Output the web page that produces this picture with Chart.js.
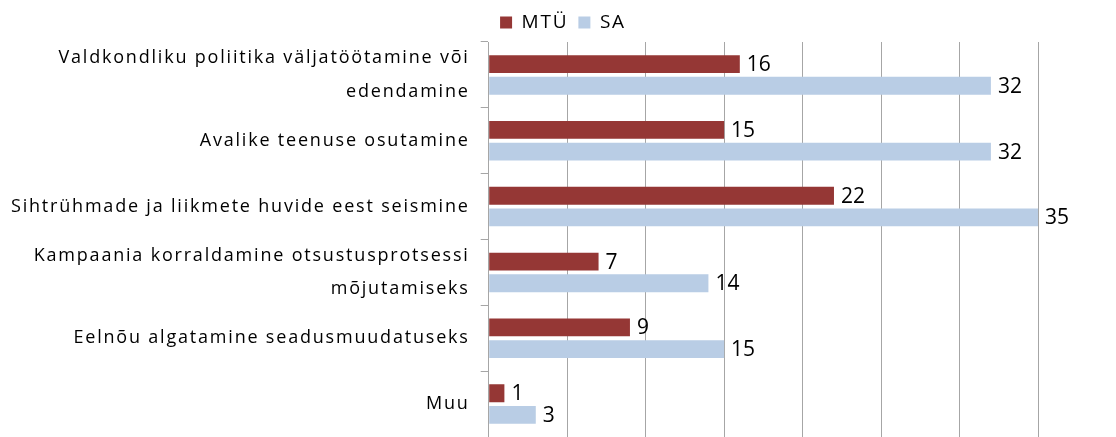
<!DOCTYPE html>
<html>
<head>
<meta charset="utf-8">
<script src="https://cdn.jsdelivr.net/npm/chart.js@4"></script>
<style>
  html, body { margin: 0; padding: 0; background: #fff; }
  #wrap { width: 1116px; height: 437px; }
</style>
</head>
<body>
<div id="wrap"><canvas id="myChart" width="1116" height="437"></canvas></div>
<script>
// andmed
const categories = [
  ["Valdkondliku poliitika väljatöötamine või", "edendamine"],
  "Avalike teenuse osutamine",
  "Sihtrühmade ja liikmete huvide eest seismine",
  ["Kampaania korraldamine otsustusprotsessi", "mõjutamiseks"],
  "Eelnõu algatamine seadusmuudatuseks",
  "Muu"
];
const mtuValues = [16, 15, 22, 7, 9, 1];
const saValues = [32, 32, 35, 14, 15, 3];
const seriesNames = ["MTÜ", "SA"];

const fontFamily = "'Open Sans', 'Liberation Sans', sans-serif";
const spacing = "1.8px"; // Calibri laadi hõre kiri

// tähevahe peab olema paigas nii mõõtmisel kui joonistamisel
const letterSpacing = {
  id: "letterSpacing",
  beforeLayout(chart) { chart.ctx.letterSpacing = spacing; },
  afterLayout(chart) {
    // legend originaalis veidi paremal
    chart.legend.left += 44;
    chart.legend.right += 44;
  },
  beforeDraw(chart) { chart.ctx.letterSpacing = spacing; }
};

// numbrid tulpade otsa
const valueLabels = {
  id: "valueLabels",
  afterDatasetsDraw(chart) {
    const ctx = chart.ctx;
    ctx.save();
    ctx.letterSpacing = "0px";
    ctx.fillStyle = "#000";
    ctx.font = "21px " + fontFamily;
    ctx.textAlign = "left";
    ctx.textBaseline = "middle";
    chart.data.datasets.forEach((ds, i) => {
      chart.getDatasetMeta(i).data.forEach((bar, j) => {
        ctx.fillText(ds.data[j], bar.x + 7, bar.y + 1);
      });
    });
    ctx.restore();
  }
};

const ctx = document.getElementById("myChart").getContext("2d");
new Chart(ctx, {
  type: "bar",
  data: {
    labels: categories,
    datasets: [
      {
        label: seriesNames[0],
        data: mtuValues,
        backgroundColor: "#953735",
        categoryPercentage: 0.66,
        barPercentage: 0.82
      },
      {
        label: seriesNames[1],
        data: saValues,
        backgroundColor: "#B9CDE5",
        categoryPercentage: 0.66,
        barPercentage: 0.82
      }
    ]
  },
  options: {
    indexAxis: "y",
    responsive: false,
    animation: false,
    layout: { padding: { left: 0, right: 78, top: 3, bottom: 0 } },
    plugins: {
      legend: {
        position: "top",
        labels: {
          font: { size: 19, family: fontFamily },
          color: "#000",
          boxWidth: 12,
          boxHeight: 12,
          padding: 10
        }
      },
      tooltip: { enabled: false }
    },
    scales: {
      x: {
        min: 0,
        max: 35,
        ticks: { stepSize: 5, display: false },
        grid: { color: "#A6A6A6", drawTicks: false },
        border: { display: false }
      },
      y: {
        ticks: {
          color: "#000",
          font: { size: 18, family: fontFamily, lineHeight: 1.85 },
          padding: 11,
          autoSkip: false
        },
        grid: { drawOnChartArea: false, tickLength: 8, color: "#A6A6A6" },
        border: { color: "#A6A6A6" },
        afterFit(scale) {
          // siltide kõrgus ei tohi joonist alt kokku suruda
          scale.paddingTop = 0;
          scale.paddingBottom = 0;
        }
      }
    }
  },
  plugins: [letterSpacing, valueLabels]
});
</script>
</body>
</html>
